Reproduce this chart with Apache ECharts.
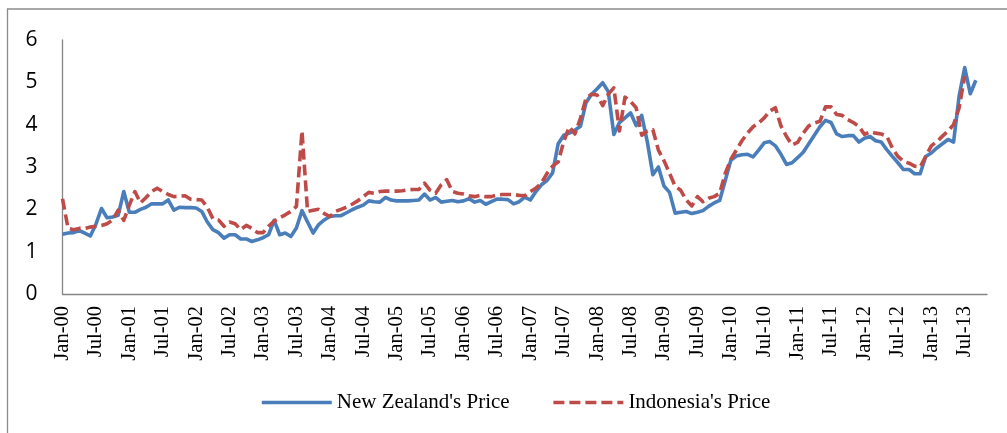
<!DOCTYPE html>
<html>
<head>
<meta charset="utf-8">
<script src="https://cdn.jsdelivr.net/npm/echarts@6/dist/echarts.min.js"></script>
<style>html,body{margin:0;padding:0;background:#fff}#c{width:1007px;height:433px}</style>
</head>
<body>
<div id="c"></div>
<script>
// Month labels Jan-00 .. Nov-13
var monthNames = ['Jan','Feb','Mar','Apr','May','Jun','Jul','Aug','Sep','Oct','Nov','Dec'];
var categories = [];
for (var k = 0; k < 167; k++) {
  var yy = Math.floor(k / 12), mm = k % 12;
  categories.push(monthNames[mm] + '-' + (yy < 10 ? '0' + yy : '' + yy));
}
var yTicks = [0, 1, 2, 3, 4, 5, 6];

var nzPrice = [
  1.41,1.44,1.45,1.50,1.44,1.37,1.65,2.02,1.80,1.82,
  1.86,2.42,1.93,1.93,2.00,2.05,2.13,2.13,2.13,2.22,
  1.98,2.05,2.04,2.04,2.03,1.95,1.70,1.52,1.45,1.32,
  1.40,1.40,1.30,1.30,1.24,1.28,1.33,1.40,1.74,1.40,
  1.44,1.36,1.56,1.97,1.70,1.44,1.64,1.75,1.83,1.85,
  1.85,1.92,1.99,2.05,2.10,2.20,2.18,2.17,2.28,2.22,
  2.20,2.20,2.20,2.21,2.22,2.36,2.22,2.28,2.17,2.19,
  2.21,2.18,2.20,2.25,2.17,2.21,2.12,2.18,2.24,2.24,
  2.23,2.13,2.18,2.29,2.22,2.42,2.58,2.68,2.86,3.55,
  3.75,3.80,3.87,3.96,4.52,4.72,4.85,4.99,4.78,3.77,
  4.05,4.16,4.28,3.98,4.22,3.60,2.82,3.00,2.55,2.40,
  1.91,1.93,1.95,1.90,1.93,1.97,2.07,2.15,2.21,2.68,
  3.16,3.26,3.29,3.30,3.24,3.40,3.57,3.60,3.50,3.30,
  3.06,3.10,3.22,3.35,3.55,3.75,3.95,4.10,4.05,3.78,
  3.72,3.74,3.74,3.59,3.68,3.72,3.62,3.59,3.41,3.25,
  3.10,2.94,2.94,2.84,2.84,3.25,3.33,3.45,3.55,3.65,
  3.59,4.68,5.35,4.73,5.05
];

var idPrice = [
  2.25,1.55,1.52,1.55,1.55,1.58,1.60,1.62,1.66,1.75,
  1.98,1.74,2.10,2.42,2.15,2.28,2.42,2.50,2.42,2.35,
  2.30,2.31,2.32,2.24,2.23,2.22,2.05,1.78,1.75,1.60,
  1.70,1.66,1.52,1.62,1.55,1.45,1.45,1.60,1.72,1.80,
  1.87,1.95,2.07,3.85,1.95,1.98,2.00,1.90,1.83,1.95,
  2.00,2.05,2.12,2.20,2.30,2.40,2.38,2.42,2.43,2.43,
  2.43,2.44,2.46,2.47,2.47,2.62,2.45,2.38,2.58,2.70,
  2.42,2.38,2.36,2.32,2.30,2.33,2.30,2.30,2.34,2.35,
  2.35,2.35,2.33,2.32,2.42,2.50,2.62,2.85,3.02,3.12,
  3.60,3.95,3.78,4.15,4.62,4.72,4.70,4.45,4.72,4.87,
  3.85,4.65,4.55,4.40,3.75,3.85,3.88,3.40,3.15,2.85,
  2.55,2.45,2.22,2.08,2.30,2.18,2.26,2.30,2.38,2.85,
  3.18,3.40,3.62,3.80,3.95,4.04,4.16,4.32,4.40,3.97,
  3.72,3.52,3.58,3.80,3.97,4.04,4.08,4.42,4.42,4.24,
  4.22,4.12,4.05,3.96,3.77,3.83,3.80,3.78,3.73,3.45,
  3.25,3.13,3.09,3.02,3.00,3.25,3.50,3.60,3.73,3.85,
  4.00,4.40,5.15
];

var chart = echarts.init(document.getElementById('c'), null, {renderer: 'canvas'});
chart.setOption({
  animation: false,
  backgroundColor: '#fff',
  graphic: [{
    type: 'rect', silent: true,
    shape: {x: 7.5, y: 9, width: 1010, height: 440},
    style: {fill: 'none', stroke: '#8c8c8c', lineWidth: 1.3}
  }],
  grid: {left: 62.5, right: 20, top: 40, bottom: 139, containLabel: false},
  legend: {
    left: 260, top: 392, padding: 0,
    itemWidth: 70, itemHeight: 20, itemGap: 42,
    itemStyle: {opacity: 0},
    lineStyle: {width: 3.5},
    textStyle: {fontFamily: 'Liberation Serif', fontSize: 21, color: '#000'},
    data: ["New Zealand's Price", "Indonesia's Price"]
  },
  xAxis: {
    type: 'category', data: categories, boundaryGap: false,
    axisLine: {lineStyle: {color: '#868686', width: 1.3}},
    axisTick: {show: false},
    axisLabel: {
      interval: 5, rotate: 90, margin: 12,
      fontFamily: 'Liberation Serif', fontSize: 20.5, color: '#000'
    },
    splitLine: {show: false}
  },
  yAxis: {
    type: 'value', min: yTicks[0], max: yTicks[yTicks.length - 1], interval: 1,
    axisLine: {show: true, lineStyle: {color: '#868686', width: 1.3}},
    axisTick: {show: false},
    axisLabel: {margin: 25, fontFamily: 'Open Sans', fontSize: 21, color: '#000'},
    splitLine: {show: false}
  },
  series: [
    {
      name: "New Zealand's Price", type: 'line', data: nzPrice,
      showSymbol: false, symbol: 'none', z: 2,
      lineStyle: {color: '#4A7EBB', width: 3.6, join: 'round'},
      itemStyle: {color: '#4A7EBB'}
    },
    {
      name: "Indonesia's Price", type: 'line', data: idPrice,
      showSymbol: false, symbol: 'none', z: 3,
      lineStyle: {color: '#BE4B48', width: 3.6, type: [11, 5], cap: 'butt', join: 'round'},
      itemStyle: {color: '#BE4B48'}
    }
  ]
});
</script>
</body>
</html>
